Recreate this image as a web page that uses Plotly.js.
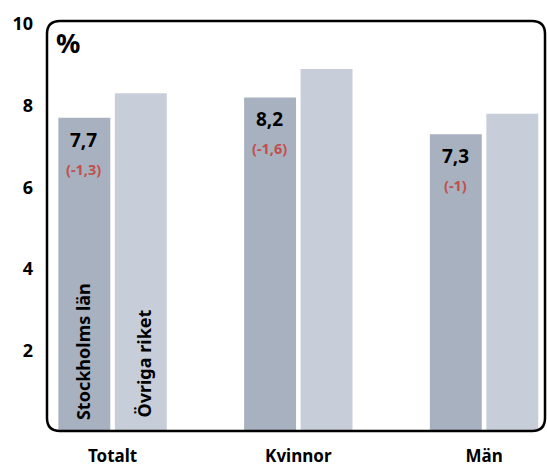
<!DOCTYPE html>
<html><head><meta charset="utf-8">
<script src="https://cdn.plot.ly/plotly-3.0.1.min.js"></script>
<style>html,body{margin:0;padding:0;background:#fff}#chart{width:547px;height:468px}</style>
</head><body><div id="chart"></div>
<script>
const categories = ["Totalt", "Kvinnor", "Män"];
const stockholm = [7.7, 8.2, 7.3];
const ovriga = [8.3, 8.9, 7.8];
const stockholmLabels = ["7,7", "8,2", "7,3"];
const changeLabels = ["(-1,3)", "(-1,6)", "(-1)"];
const seriesNames = ["Stockholms län", "Övriga riket"];
const yTicks = [2, 4, 6, 8, 10];

const FONT = "'Noto Sans', 'Open Sans', sans-serif";
const traces = [
  {type: "bar", x: categories, y: stockholm, name: seriesNames[0],
   marker: {color: "#a8b1bf"}, hoverinfo: "skip"},
  {type: "bar", x: categories, y: ovriga, name: seriesNames[1],
   marker: {color: "#c8ced9"}, hoverinfo: "skip"}
];

const annotations = [];
categories.forEach((c, i) => {
  annotations.push({x: c, y: stockholm[i], xref: "x", yref: "y", text: "<b>" + stockholmLabels[i] + "</b>",
    showarrow: false, xshift: -29, yshift: -22, yanchor: "middle",
    font: {family: FONT, size: 19, color: "#000"}});
  annotations.push({x: c, y: stockholm[i], xref: "x", yref: "y", text: "<b>" + changeLabels[i] + "</b>",
    showarrow: false, xshift: -29, yshift: -51, yanchor: "middle",
    font: {family: FONT, size: 14.5, color: "#c0504d"}});
});
annotations.push({x: categories[0], y: 0, xref: "x", yref: "y", text: "<b>" + seriesNames[0] + "</b>",
  showarrow: false, textangle: -90, xshift: -30, yshift: 10, yanchor: "bottom",
  font: {family: FONT, size: 18, color: "#000"}});
annotations.push({x: categories[0], y: 0, xref: "x", yref: "y", text: "<b>" + seriesNames[1] + "</b>",
  showarrow: false, textangle: -90, xshift: 31, yshift: 12, yanchor: "bottom",
  font: {family: FONT, size: 18, color: "#000"}});
annotations.push({x: 0.042, y: 0.955, xref: "paper", yref: "paper", text: "<b>%</b>",
  showarrow: false, xanchor: "center", yanchor: "middle",
  font: {family: FONT, size: 27, color: "#000"}});

const rx = 13/498, ry = 13/408;
const L = 0, R = 1, B = 0.0025, T = 1.0074;
const path = `M ${L+rx} ${T} L ${R-rx} ${T} Q ${R} ${T} ${R} ${T-ry} L ${R} ${B+ry} Q ${R} ${B} ${R-rx} ${B} ` +
  `L ${L+rx} ${B} Q ${L} ${B} ${L} ${B+ry} L ${L} ${T-ry} Q ${L} ${T} ${L+rx} ${T} Z`;

const layout = {
  width: 547, height: 468,
  margin: {l: 47, r: 2, t: 24, b: 36},
  paper_bgcolor: "#fff", plot_bgcolor: "#fff",
  showlegend: false,
  barmode: "group", bargap: 0.392, bargroupgap: 0.08,
  xaxis: {type: "category", range: [-0.353, 2.328], showgrid: false, zeroline: false, showline: false,
    ticks: "", ticklabelstandoff: 12,
    tickfont: {family: FONT, size: 17, color: "#000", weight: "bold"}},
  yaxis: {range: [0, 10], tickvals: yTicks, ticktext: yTicks.map(String), showgrid: false, zeroline: false,
    showline: false, ticks: "", ticklabelstandoff: 13,
    tickfont: {family: FONT, size: 18, color: "#000", weight: "bold"}},
  shapes: [{type: "path", xref: "paper", yref: "paper", path: path, layer: "above",
    line: {color: "#000", width: 2.5}, fillcolor: "rgba(0,0,0,0)"}],
  annotations: annotations
};
Plotly.newPlot("chart", traces, layout, {displayModeBar: false, staticPlot: true});
</script></body></html>
